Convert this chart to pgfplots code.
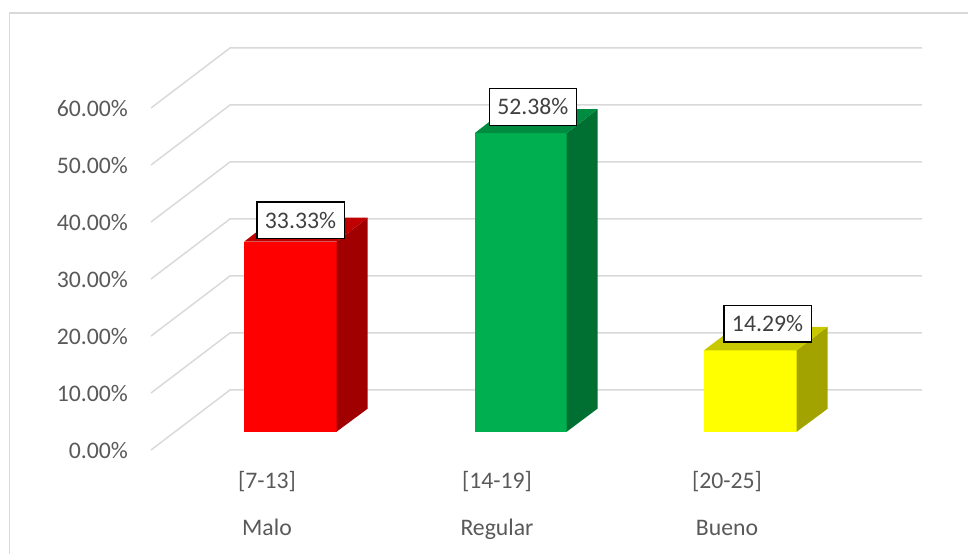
\documentclass[border=0pt]{standalone}
\usepackage{pgfplots}
\pgfplotsset{compat=1.18}
\usepackage{fontspec}
\setmainfont{Carlito}
\definecolor{gridc}{HTML}{D9D9D9}
\definecolor{txt}{HTML}{595959}
\definecolor{lbl}{HTML}{404040}
\definecolor{redf}{HTML}{FF0000}
\definecolor{reds}{HTML}{A00000}
\definecolor{redt}{HTML}{C00000}
\definecolor{greenf}{HTML}{00B050}
\definecolor{greens}{HTML}{007032}
\definecolor{greent}{HTML}{008C40}
\definecolor{yellowf}{HTML}{FFFF00}
\definecolor{yellows}{HTML}{A3A300}
\definecolor{yellowt}{HTML}{C8C800}
\begin{document}
\begin{tikzpicture}
\begin{axis}[
  scale only axis,
  width=726pt, height=415.5pt,
  xmin=0, xmax=968,
  ymin=-18.2456, ymax=78.947,
  axis line style={draw=none},
  major tick length=0pt,
  tick style={draw=none},
  ytick={0,10,20,30,40,50,60},
  yticklabels={0.00\%,10.00\%,20.00\%,30.00\%,40.00\%,50.00\%,60.00\%},
  yticklabel style={anchor=east, xshift=99.5pt, yshift=-0.6pt, text=txt, font=\fontsize{17.8}{20}\selectfont},
  xtick={267,497,727},
  xticklabels={{[7-13]\\Malo},{[14-19]\\Regular},{[20-25]\\Bueno}},
  xticklabel style={align=center, anchor=north, yshift=65.3pt, text=txt, font=\fontsize{17.8}{35.25}\selectfont},
  tick align=outside,
]
% border
\addplot[gridc, line width=1.1pt] coordinates {(9.5,-18.2456) (9.5,76.67) (968,76.67)};
% walls
\addplot[gridc, line width=1.1pt] coordinates {(151,0) (230,10.53) (922,10.53)};
\addplot[gridc, line width=1.1pt] coordinates {(151,10) (230,20.53) (922,20.53)};
\addplot[gridc, line width=1.1pt] coordinates {(151,20) (230,30.53) (922,30.53)};
\addplot[gridc, line width=1.1pt] coordinates {(151,30) (230,40.53) (922,40.53)};
\addplot[gridc, line width=1.1pt] coordinates {(151,40) (230,50.53) (922,50.53)};
\addplot[gridc, line width=1.1pt] coordinates {(151,50) (230,60.53) (922,60.53)};
\addplot[gridc, line width=1.1pt] coordinates {(151,60) (230,70.53) (922,70.53)};
% red bar
\addplot[draw=none, fill=redf, ybar, bar width=92.5, yshift=13.7pt] coordinates {(290.25,33.33)};
\addplot[draw=none, fill=reds, yshift=13.7pt] coordinates {(336.5,0) (336.5,33.33) (367.7,37.54) (367.7,4.05)} --cycle;
\addplot[draw=none, fill=redt, yshift=13.7pt] coordinates {(244,33.33) (336.5,33.33) (367.7,37.54) (275.2,37.54)} --cycle;
% green bar
\addplot[draw=none, fill=greenf, ybar, bar width=92, yshift=13.7pt] coordinates {(520.7,52.38)};
\addplot[draw=none, fill=greens, yshift=13.7pt] coordinates {(566.7,0) (566.7,52.38) (597.5,56.59) (597.5,4.05)} --cycle;
\addplot[draw=none, fill=greent, yshift=13.7pt] coordinates {(474.7,52.38) (566.7,52.38) (597.5,56.59) (505.5,56.59)} --cycle;
% yellow bar
\addplot[draw=none, fill=yellowf, ybar, bar width=92.7, yshift=13.7pt] coordinates {(750.35,14.29)};
\addplot[draw=none, fill=yellows, yshift=13.7pt] coordinates {(796.7,0) (796.7,14.29) (827.7,18.4) (827.7,4.05)} --cycle;
\addplot[draw=none, fill=yellowt, yshift=13.7pt] coordinates {(704,14.29) (796.7,14.29) (827.7,18.4) (735,18.4)} --cycle;
% data labels
\tikzset{dl/.style={draw=black, fill=white, line width=1pt, text=lbl, inner sep=0pt,
  minimum width=65.5pt, minimum height=27.5pt, font=\fontsize{17.8}{20}\selectfont}}
\node[dl] at (axis cs:300.5,40.3) {33.33\%};
\node[dl] at (axis cs:532.9,60.18) {52.38\%};
\node[dl] at (axis cs:767.5,22.14) {14.29\%};
\end{axis}
\end{tikzpicture}
\end{document}
